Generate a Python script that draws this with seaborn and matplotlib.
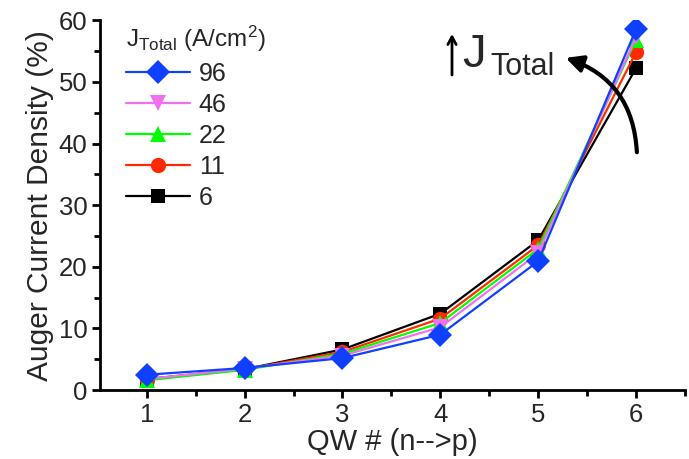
import matplotlib
matplotlib.use("Agg")
import matplotlib.pyplot as plt
import seaborn as sns
import pandas as pd
from matplotlib.lines import Line2D

qw = [1, 2, 3, 4, 5, 6]
j6 = [1.8, 3.4, 6.6, 12.4, 24.3, 52.2]
j11 = [1.7, 3.4, 6.2, 11.6, 23.5, 54.8]
j22 = [1.6, 3.3, 5.9, 10.9, 22.9, 56.8]
j46 = [1.8, 3.5, 5.6, 10.2, 22.2, 57.2]
j96 = [2.5, 3.6, 5.2, 9.0, 20.9, 58.5]

labels = ["6", "11", "22", "46", "96"]
series = [j6, j11, j22, j46, j96]
colors = {"6": "#000000", "11": "#ff2a00", "22": "#00ff00", "46": "#f070f0", "96": "#1040ff"}
markers = {"6": "s", "11": "o", "22": "^", "46": "v", "96": "D"}
msizes = {"6": 10, "11": 11, "22": 12, "46": 12, "96": 12}

sns.set_style("ticks")
plt.rcParams["font.family"] = ["Liberation Sans", "DejaVu Sans"]
plt.rcParams["mathtext.fontset"] = "custom"
plt.rcParams["mathtext.rm"] = "Liberation Sans"
plt.rcParams["mathtext.it"] = "Liberation Sans:italic"

fig = plt.figure(figsize=(6.89, 4.59), dpi=100)
ax = fig.add_axes([0.145, 0.150, 0.849, 0.806])

for lab, vals in zip(labels, series):
    df = pd.DataFrame({"QW": qw, "val": vals})
    sns.lineplot(data=df, x="QW", y="val", ax=ax, color=colors[lab], marker=markers[lab],
                 markersize=msizes[lab], markeredgewidth=0, linewidth=1.6, legend=False)

ax.set_xlim(0.52, 6.5)
ax.set_ylim(0, 60)
ax.set_xticks(qw)
ax.set_xticks([1.5, 2.5, 3.5, 4.5, 5.5, 6.5], minor=True)
ax.set_yticks(range(0, 61, 10))
ax.set_yticks(range(5, 60, 10), minor=True)
for s in ["top", "right"]:
    ax.spines[s].set_visible(False)
for s in ["left", "bottom"]:
    ax.spines[s].set_linewidth(2)
    ax.spines[s].set_color("black")
ax.tick_params(axis="both", which="major", length=6, width=2, labelsize=18.5, direction="out",
               color="black", pad=3)
ax.tick_params(axis="both", which="minor", length=4, width=2, direction="out", color="black")
ax.set_xlabel("QW # (n-->p)", fontsize=21, labelpad=1)
ax.set_ylabel("Auger Current Density (%)", fontsize=21.5, labelpad=3)

handles = []
hl = []
for lab in ["96", "46", "22", "11", "6"]:
    handles.append(Line2D([0], [0], color=colors[lab], marker=markers[lab], markersize=msizes[lab],
                          markeredgewidth=0, linewidth=1.6))
    hl.append(lab)
ax.text(0.045, 0.99, r"J$_{\mathrm{Total}}$ (A/cm$^2$)", transform=ax.transAxes, fontsize=17.5,
        va="top", ha="left")
leg = ax.legend(handles, hl, loc="upper left", bbox_to_anchor=(0.028, 0.915), frameon=False,
                fontsize=18, handlelength=2.55, handletextpad=0.35, labelspacing=0.28,
                borderaxespad=0)

# "↑J_Total" annotation
ax.annotate("", xy=(452, 459 - 34), xycoords="figure pixels",
            xytext=(452, 459 - 75), textcoords="figure pixels",
            arrowprops=dict(arrowstyle="->,head_length=0.55,head_width=0.3", color="black", lw=2,
                            shrinkA=0, shrinkB=0))
ax.text(462, 459 - 67, "J", transform=None, fontsize=34, va="baseline", ha="left")
ax.text(490, 459 - 75, "Total", transform=None, fontsize=22, va="baseline", ha="left")
ax.annotate("", xy=(563, 459 - 57), xycoords="figure pixels",
            xytext=(637, 459 - 155), textcoords="figure pixels",
            arrowprops=dict(arrowstyle="-|>,head_length=1.0,head_width=0.5", color="black", lw=3,
                            connectionstyle="arc3,rad=0.35"))

fig.savefig("out.png", dpi=100)
